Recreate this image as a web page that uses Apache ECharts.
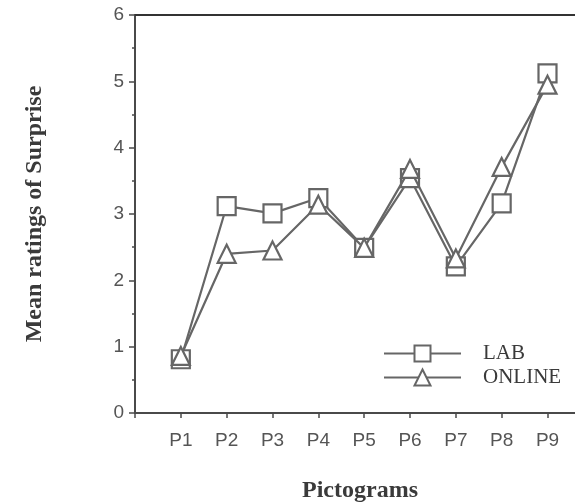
<!DOCTYPE html>
<html>
<head>
<meta charset="utf-8">
<script src="https://cdn.jsdelivr.net/npm/echarts@6/dist/echarts.min.js"></script>
<style>
html, body { margin: 0; padding: 0; background: #fff; }
#chart { width: 575px; height: 502px; }
</style>
</head>
<body>
<div id="chart"></div>
<script>
// pictogram categories and mean ratings
var categories = ['P1', 'P2', 'P3', 'P4', 'P5', 'P6', 'P7', 'P8', 'P9'];
var labValues    = [0.81, 3.12, 3.01, 3.24, 2.49, 3.54, 2.21, 3.16, 5.12];
var onlineValues = [0.86, 2.40, 2.45, 3.14, 2.49, 3.68, 2.33, 3.71, 4.95];
var yTicks = [0, 1, 2, 3, 4, 5, 6];

var lineGray = '#666';
var axisGray = '#4a4a4a';

function pairs(values) {
  var out = [];
  for (var i = 0; i < values.length; i++) {
    out.push([i + 1, values[i]]);
  }
  return out;
}

var myChart = echarts.init(document.getElementById('chart'));
var option = {
  animation: false,
  grid: { left: 135, top: 15, right: 0, bottom: 89, containLabel: false, outerBoundsMode: 'none' },
  legend: {
    orient: 'vertical',
    left: 383,
    top: 343,
    padding: 0,
    itemWidth: 77,
    itemHeight: 20,
    itemGap: 3,
    textStyle: { fontFamily: 'Liberation Serif', fontSize: 21, color: '#3a3a3a', padding: [0, 0, 0, 17] },
    data: ['LAB', 'ONLINE']
  },
  xAxis: [
    {
      type: 'value',
      min: 0,
      max: 9.6,
      interval: 1,
      name: 'Pictograms',
      nameLocation: 'middle',
      nameGap: 66,
      nameTextStyle: { fontFamily: 'Liberation Serif', fontWeight: 'bold', fontSize: 24, color: '#3a3a3a', padding: [0, 0, 0, 10] },
      axisLine: { onZero: false, lineStyle: { color: axisGray, width: 2 } },
      axisTick: { show: true, length: 5, lineStyle: { color: axisGray, width: 1.5 } },
      splitLine: { show: false },
      axisLabel: {
        margin: 18,
        fontFamily: 'Liberation Sans',
        fontSize: 19,
        color: '#555',
        showMaxLabel: false,
        formatter: function (v) { return categories[v - 1] || ''; }
      }
    },
    {
      type: 'value',
      position: 'top',
      min: 0,
      max: 9.6,
      axisLine: { show: true, onZero: false, lineStyle: { color: '#333', width: 2 } },
      axisTick: { show: false },
      axisLabel: { show: false },
      splitLine: { show: false }
    }
  ],
  yAxis: {
    type: 'value',
    min: 0,
    max: 6,
    interval: 1,
    name: 'Mean ratings of Surprise',
    nameLocation: 'middle',
    nameGap: 88,
    nameTextStyle: { fontFamily: 'Liberation Serif', fontWeight: 'bold', fontSize: 24, color: '#3a3a3a' },
    axisLine: { show: true, lineStyle: { color: axisGray, width: 2 } },
    axisTick: { show: true, length: 6, lineStyle: { color: axisGray, width: 1.5 } },
    minorTick: { show: true, splitNumber: 2, length: 3, lineStyle: { color: axisGray, width: 1.5 } },
    splitLine: { show: false },
    axisLabel: {
      margin: 11,
      fontFamily: 'Liberation Sans',
      fontSize: 19,
      color: '#555',
      formatter: function (v) { return yTicks.indexOf(v) >= 0 ? String(v) : ''; }
    }
  },
  series: [
    {
      name: 'LAB',
      type: 'line',
      data: pairs(labValues),
      symbol: 'rect',
      symbolSize: 18,
      lineStyle: { color: lineGray, width: 2.2 },
      itemStyle: { color: '#fff', borderColor: lineGray, borderWidth: 2.2 },
      z: 3
    },
    {
      name: 'ONLINE',
      type: 'line',
      data: pairs(onlineValues),
      symbol: 'triangle',
      symbolSize: 18,
      lineStyle: { color: lineGray, width: 2.2 },
      itemStyle: { color: '#fff', borderColor: lineGray, borderWidth: 2.2 },
      z: 4
    }
  ]
};
myChart.setOption(option);
</script>
</body>
</html>
